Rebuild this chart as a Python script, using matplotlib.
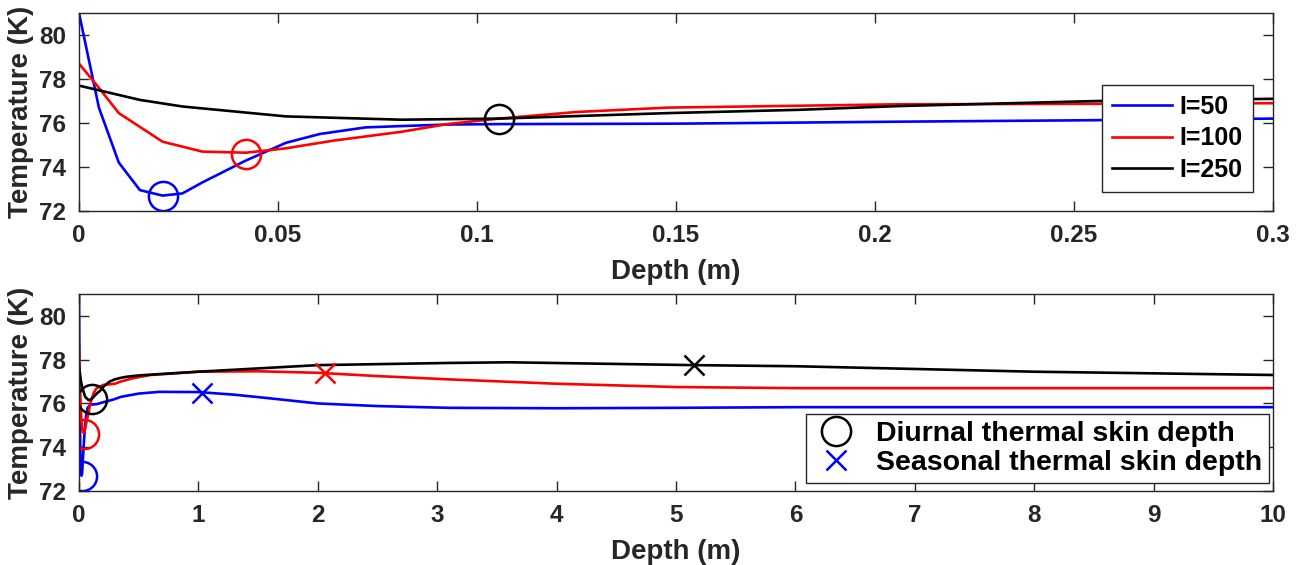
import numpy as np
import matplotlib
matplotlib.use("Agg")
import matplotlib.pyplot as plt
from matplotlib.lines import Line2D

plt.rcParams['font.family'] = ['Liberation Sans', 'DejaVu Sans']
plt.rcParams['font.weight'] = 'bold'

# ---- temperature profiles (depth in m, temperature in K) ----
depth_50 = [0, 0.005, 0.010, 0.0153, 0.021, 0.026, 0.031, 0.042, 0.052, 0.0605,
            0.072, 0.081, 0.0925, 0.1055, 0.15, 0.206, 0.25, 0.3, 0.35, 0.5,
            0.67, 1.0, 1.3, 1.57, 2.0, 2.5, 3.1, 4, 5, 6, 8, 10]
temp_50 = [81.0, 76.7, 74.2, 72.95, 72.7, 72.8, 73.3, 74.3, 75.1, 75.5,
           75.8, 75.86, 75.93, 75.95, 75.97, 76.06, 76.12, 76.2, 76.3, 76.45,
           76.53, 76.52, 76.4, 76.25, 76.0, 75.88, 75.8, 75.78, 75.8, 75.83, 75.83, 75.83]

depth_100 = [0, 0.005, 0.010, 0.021, 0.031, 0.042, 0.052, 0.064, 0.081, 0.0925,
             0.1055, 0.125, 0.148, 0.206, 0.25, 0.3, 0.35, 0.45, 0.6, 1.0, 1.5,
             2.0, 2.5, 3.1, 4, 5, 6, 8, 10]
temp_100 = [78.7, 77.6, 76.45, 75.15, 74.7, 74.65, 74.85, 75.2, 75.6, 75.95,
            76.2, 76.5, 76.7, 76.85, 76.87, 76.9, 77.0, 77.15, 77.3, 77.45, 77.47,
            77.4, 77.25, 77.1, 76.9, 76.75, 76.7, 76.7, 76.7]

depth_250 = [0, 0.0153, 0.026, 0.052, 0.081, 0.1055, 0.148, 0.181, 0.206, 0.256,
             0.3, 0.35, 0.4, 0.5, 0.7, 1.0, 2.0, 3.1, 3.6, 5.15, 6, 8, 10]
temp_250 = [77.7, 77.05, 76.75, 76.3, 76.15, 76.2, 76.45, 76.6, 76.77, 77.0,
            77.1, 77.17, 77.22, 77.28, 77.35, 77.45, 77.75, 77.85, 77.88, 77.75, 77.7, 77.45, 77.3]

# skin depths (m) and temperature there
labels = ['I=50', 'I=100', 'I=250']
colors = ['#0000ff', '#ff0000', '#000000']
diurnal_depth = [0.021, 0.042, 0.1055]
diurnal_temp = [72.7, 74.6, 76.2]
seasonal_depth = [1.03, 2.06, 5.15]
seasonal_temp = [76.5, 77.4, 77.75]

profiles = [(depth_50, temp_50), (depth_100, temp_100), (depth_250, temp_250)]

fig = plt.figure(figsize=(13.05, 5.65), dpi=100)
W, H = 1305, 565
ax1 = fig.add_axes([79 / W, 1 - 211 / H, 1194 / W, 198 / H])
ax2 = fig.add_axes([79 / W, 1 - 491 / H, 1194 / W, 197 / H])

edge = '#262626'
for ax in (ax1, ax2):
    for (d, t), c, lab in zip(profiles, colors, labels):
        ax.plot(d, t, color=c, lw=1.9, label=lab)
    for c, xd, yt in zip(colors, diurnal_depth, diurnal_temp):
        ax.plot(xd, yt, 'o', mfc='none', mec=c, ms=21, mew=1.8)
    ax.set_ylim(72, 81)
    ax.set_yticks([72, 74, 76, 78, 80])
    ax.tick_params(direction='in', length=7, width=1, colors=edge, labelsize=17.5,
                   top=True, right=True, pad=9)
    for s in ax.spines.values():
        s.set_color(edge)
        s.set_linewidth(1)
    ax.set_ylabel('Temperature (K)', fontsize=20, fontweight='bold', color=edge, labelpad=4)
    ax.set_xlabel('Depth (m)', fontsize=20, fontweight='bold', color=edge, labelpad=9)

for c, xd, yt in zip(colors, seasonal_depth, seasonal_temp):
    ax2.plot(xd, yt, 'x', color=c, ms=14, mew=1.8)

ax1.set_xlim(0, 0.3)
ax1.set_xticks([0, 0.05, 0.1, 0.15, 0.2, 0.25, 0.3])
ax1.set_xticklabels(['0', '0.05', '0.1', '0.15', '0.2', '0.25', '0.3'])
ax2.set_xlim(0, 10)
ax2.set_xticks(range(0, 11))

leg1 = ax1.legend(loc='lower right', bbox_to_anchor=(0.983, 0.096), borderaxespad=0,
                  fontsize=18, fancybox=False, framealpha=1, edgecolor=edge,
                  handlelength=2.4, handletextpad=0.3, labelspacing=0.3,
                  borderpad=0.4)
leg1.get_frame().set_linewidth(1)

handles = [Line2D([], [], ls='none', marker='o', mfc='none', mec='black', ms=21, mew=1.8),
           Line2D([], [], ls='none', marker='x', color='#0000ff', ms=14, mew=1.8)]
leg2 = ax2.legend(handles, ['Diurnal thermal skin depth', 'Seasonal thermal skin depth'],
                  loc='lower right', bbox_to_anchor=(0.997, 0.04), borderaxespad=0,
                  fontsize=20.5, fancybox=False, framealpha=1, edgecolor=edge,
                  handlelength=1.6, handletextpad=0.6, labelspacing=0.1,
                  borderpad=0.25)
leg2.get_frame().set_linewidth(1)

fig.savefig('out.png', dpi=100)
